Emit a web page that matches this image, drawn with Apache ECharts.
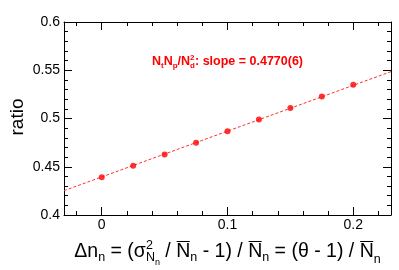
<!DOCTYPE html>
<html><head><meta charset="utf-8">
<script src="https://cdn.jsdelivr.net/npm/echarts@6/dist/echarts.min.js"></script>
<style>html,body{margin:0;padding:0;background:#fff}#c{width:399px;height:270px}</style>
</head><body><div id="c"></div>
<script>
// ---- data ----
const xValues = [0, 0.025, 0.05, 0.075, 0.1, 0.125, 0.15, 0.175, 0.2];
const ratioValues = [0.4390, 0.4510, 0.4628, 0.4748, 0.4868, 0.4990, 0.5110, 0.5228, 0.5350];
const fitX = [-0.03, 0.23];
const fitY = [0.4252, 0.5486];
const xRange = [-0.03, 0.23];
const xMajorTicks = [0, 0.1, 0.2];
const xMinorTicks = [-0.02, 0.02, 0.04, 0.06, 0.08, 0.12, 0.14, 0.16, 0.18, 0.22];
const yRange = [0.4, 0.6];
const yInterval = 0.05;
const yTitle = 'ratio';

const FONT = "'Liberation Sans', Arial, Helvetica, sans-serif";
const RED = '#ff0000';

// ---- rich-ish text layout helper ----
const cv = document.createElement('canvas').getContext('2d');
function fnt(s, bold) { return (bold ? 'bold ' : '') + s + 'px ' + FONT; }
function tw(t, s, bold) { cv.font = fnt(s, bold); cv.textBaseline = 'alphabetic'; return cv.measureText(t).width; }
function midOff(s, bold) { cv.font = fnt(s, bold); cv.textBaseline = 'middle'; const m = cv.measureText('N').actualBoundingBoxDescent; cv.textBaseline = 'alphabetic'; return m; }
function capH(s, bold) { cv.font = fnt(s, bold); cv.textBaseline = 'alphabetic'; return cv.measureText('N').actualBoundingBoxAscent; }
function seqWidth(seq, bold) { return seq.reduce((a, p) => a + pieceWidth(p, bold), 0); }
function pieceWidth(p, bold) { return p.stack ? Math.max(...p.stack.map(q => seqWidth(q, bold))) : tw(p.t, p.s, bold); }
function emit(seq, x, base, color, bold, out) {
  for (const p of seq) {
    if (p.stack) {
      p.stack.forEach(q => emit(q, x, base, color, bold, out));
      x += pieceWidth(p, bold);
      continue;
    }
    const b = base + (p.dy || 0);
    const w = tw(p.t, p.s, bold);
    out.push({ type: 'text', silent: true, x: x, y: b - midOff(p.s, bold),
      style: { text: p.t, font: fnt(p.s, bold), fill: color, align: 'left', verticalAlign: 'middle' } });
    if (p.ov) {
      const yy = Math.round(b - capH(p.s, bold) - 2.5) + 0.5;
      out.push({ type: 'line', silent: true, shape: { x1: x + 0.5, y1: yy, x2: x + w - 0.5, y2: yy },
        style: { stroke: color, lineWidth: 1 } });
    }
    x += w;
  }
  return x;
}

const xTitleSeq = [
  { t: 'Δn', s: 19.5 }, { t: 'n', s: 12.5, dy: 4 },
  { t: ' = (σ', s: 19.5 },
  { stack: [[{ t: '2', s: 12.5, dy: -8 }], [{ t: 'N', s: 12.5, dy: 4 }, { t: 'n', s: 9, dy: 8 }]] },
  { t: ' / ', s: 19.5 }, { t: 'N', s: 19.5, ov: true }, { t: 'n', s: 12.5, dy: 4 },
  { t: ' - 1) / ', s: 19.5 }, { t: 'N', s: 19.5, ov: true }, { t: 'n', s: 12.5, dy: 4 },
  { t: ' = (θ - 1) / ', s: 19.5 }, { t: 'N', s: 19.5, ov: true }, { t: 'n', s: 12.5, dy: 6 }
];
const fitSeq = [
  { t: 'N', s: 12.5 }, { t: 't', s: 8, dy: 3 }, { t: 'N', s: 12.5 }, { t: 'p', s: 8, dy: 3 },
  { t: '/N', s: 12.5 },
  { stack: [[{ t: '2', s: 8, dy: -5 }], [{ t: 'd', s: 8, dy: 3 }]] },
  { t: ': slope = 0.4770(6)', s: 12.5 }
];

const graphics = [];
const xtW = seqWidth(xTitleSeq, false);
emit(xTitleSeq, 227.5 - xtW / 2, 257, '#000', false, graphics);
emit(fitSeq, 152, 65, RED, true, graphics);
graphics.push({ type: 'text', silent: true, x: 23 - midOff(19, false), y: 117, rotation: Math.PI / 2,
  style: { text: yTitle, font: fnt(19, false), fill: '#000', align: 'center', verticalAlign: 'middle' } });

const lineStyle = { color: '#000', width: 1 };
const label = { fontFamily: FONT, fontSize: 14, color: '#000' };
function xAxisDef(pos, ticks, len, showLine, showLabel) {
  return {
    type: 'value', position: pos, min: xRange[0], max: xRange[1], gridIndex: 0,
    axisLine: { show: showLine, onZero: false, lineStyle },
    axisTick: { show: true, inside: true, length: len, customValues: ticks, lineStyle },
    axisLabel: showLabel ? Object.assign({ show: true, margin: 3, customValues: ticks }, label) : { show: false },
    splitLine: { show: false }
  };
}
function yAxisDef(pos, showLabel) {
  return {
    type: 'value', position: pos, min: yRange[0], max: yRange[1], interval: yInterval,
    axisLine: { show: true, onZero: false, lineStyle },
    axisTick: { show: true, inside: true, length: 8, lineStyle },
    minorTick: { show: true, splitNumber: 5, length: 4, lineStyle },
    axisLabel: showLabel ? Object.assign({ show: true, margin: 4 }, label) : { show: false },
    splitLine: { show: false }, minorSplitLine: { show: false }
  };
}

const chart = echarts.init(document.getElementById('c'), null, { renderer: 'canvas' });
chart.setOption({
  animation: false,
  backgroundColor: '#fff',
  grid: { left: 64, right: 8, top: 22, bottom: 55, containLabel: false },
  xAxis: [
    xAxisDef('bottom', xMajorTicks, 8, true, true),
    xAxisDef('bottom', xMinorTicks, 4, false, false),
    xAxisDef('top', xMajorTicks, 8, true, false),
    xAxisDef('top', xMinorTicks, 4, false, false)
  ],
  yAxis: [yAxisDef('left', true), yAxisDef('right', false)],
  series: [
    { type: 'line', xAxisIndex: 0, yAxisIndex: 0, data: fitX.map((x, i) => [x, fitY[i]]),
      showSymbol: false, silent: true, lineStyle: { color: '#ff3030', width: 1, type: [3, 2] }, z: 2 },
    { type: 'scatter', xAxisIndex: 0, yAxisIndex: 0, data: xValues.map((x, i) => [x, ratioValues[i]]),
      symbol: 'circle', symbolSize: 6, itemStyle: { color: RED }, z: 3 }
  ],
  graphic: graphics
});
</script></body></html>
